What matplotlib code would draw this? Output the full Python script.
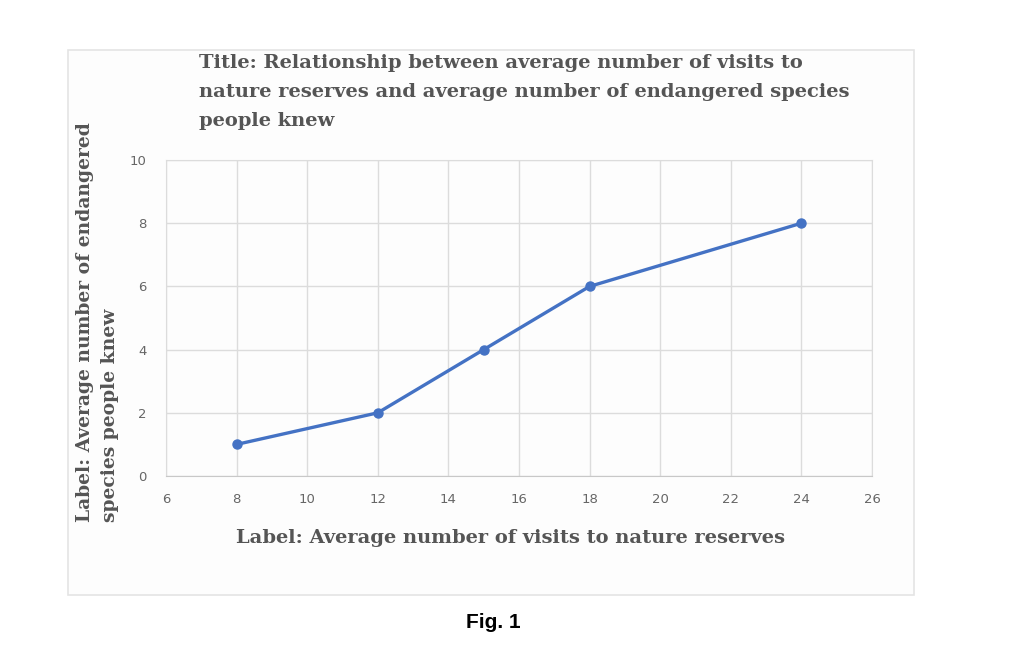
import matplotlib.pyplot as plt
from matplotlib.patches import Rectangle

# data
visits = [8, 12, 15, 18, 24]
species = [1, 2, 4, 6, 8]
x_ticks = [6, 8, 10, 12, 14, 16, 18, 20, 22, 24, 26]
y_ticks = [0, 2, 4, 6, 8, 10]

W, H = 1010, 645
fig = plt.figure(figsize=(W / 100, H / 100), dpi=100)
fig.patch.set_facecolor('white')

# chart area frame
fig.patches.append(Rectangle((68 / W, 1 - 595 / H), (914 - 68) / W, (595 - 50) / H,
                             transform=fig.transFigure, facecolor='#fdfdfd',
                             edgecolor='#e4e4e4', linewidth=1.2, zorder=-1))

ax = fig.add_axes([166 / W, 1 - 476 / H, (872 - 166) / W, (476 - 160) / H])
ax.set_facecolor('#fdfdfd')
ax.plot(visits, species, color='#4472C4', linewidth=2.4, marker='o', markersize=6.5,
        zorder=3, clip_on=False)

ax.set_xlim(6, 26)
ax.set_ylim(0, 10)
ax.set_xticks(x_ticks)
ax.set_yticks(y_ticks)
ax.grid(True, color='#dcdcdc', linewidth=1.0)
ax.set_axisbelow(True)
for s in ax.spines.values():
    s.set_color('#dcdcdc')
ax.spines['bottom'].set_color('#c8c8c8')
ax.tick_params(length=0, labelsize=9.5, labelcolor='#666666', pad=12)
ax.tick_params(axis='y', pad=14)

serif = ['DejaVu Serif']
fig.text(199 / W, 1 - 54 / H,
         'Title: Relationship between average number of visits to\n'
         'nature reserves and average number of endangered species\n'
         'people knew',
         ha='left', va='top', fontsize=14, fontweight='bold', color='#555555',
         family=serif, linespacing=1.8)

fig.text(511 / W, 1 - 538 / H, 'Label: Average number of visits to nature reserves',
         ha='center', va='center', fontsize=14, fontweight='bold', color='#555555',
         family=serif)

fig.text(98 / W, 1 - 522 / H, 'Label: Average number of endangered\nspecies people knew',
         ha='center', va='bottom', rotation=90, multialignment='left',
         fontsize=13.5, fontweight='bold', color='#555555', family=serif,
         linespacing=1.5)

fig.text(493 / W, 1 - 623 / H, 'Fig. 1', ha='center', va='center', fontsize=15,
         fontweight='bold', color='black', family=['Liberation Sans'])

fig.savefig('out.png', dpi=100)
